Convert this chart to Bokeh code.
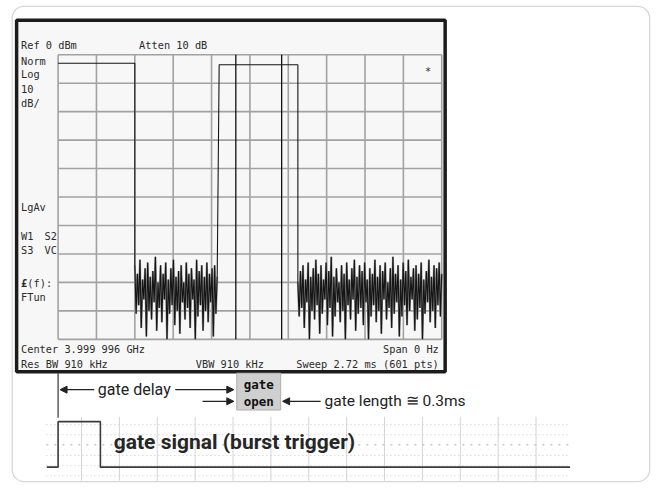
from bokeh.plotting import figure
from bokeh.models import Range1d, Arrow, NormalHead, BoxAnnotation
from bokeh.core.properties import value
from bokeh.embed import file_html
from bokeh.resources import INLINE

# ---------------- data ----------------
sweep_ms = 2.72          # sweep time (ms), 601 pts
ref_dbm = 0.0            # reference level
db_per_div = 10
n_div = 10

pulse1_ms = [0.0, 0.544]
pulse1_db = -3.0
pulse2_ms = [1.142, 1.70]
pulse2_db = -3.5

noise1_span = [0.544, 1.128]
noise1_db = [-74, -91, -77, -88, -72, -96, -79, -86, -75, -99,
             -73, -90, -78, -93, -76, -87, -71, -97, -80, -89,
             -74, -94, -77, -86, -73, -100, -79, -91, -75, -88,
             -72, -95, -78, -90, -76, -98, -74, -87, -80, -93,
             -73, -89, -77, -96, -75, -86, -79, -100, -72, -92,
             -76, -88, -74, -97, -78, -90, -73, -94, -77, -87,
             -75, -99, -74, -91, -78]
noise2_span = [1.70, 2.72]
noise2_db = [-80, -92, -76, -89, -74, -96, -79, -87, -73, -100,
             -78, -90, -75, -93, -72, -88, -77, -98, -74, -91,
             -79, -86, -73, -95, -76, -89, -71, -99, -78, -92,
             -75, -87, -80, -94, -74, -90, -77, -100, -73, -88,
             -79, -93, -75, -86, -72, -97, -78, -91, -74, -89,
             -76, -95, -73, -87, -79, -100, -75, -92, -77, -88,
             -72, -94, -78, -90, -74, -98, -76, -86, -73, -93,
             -80, -89, -75, -96, -71, -91, -77, -87, -74, -99,
             -79, -92, -73, -88, -76, -95, -72, -90, -78, -86,
             -75, -97, -74, -93, -77, -89, -73, -100, -79, -91,
             -76, -87, -72, -94, -78, -90, -74, -96, -75, -88,
             -73, -92, -77]

gate_ms = [1.26, 1.585]          # gate open / close markers

trig_ms = [-0.08, 0.0, 0.0, 0.30, 0.30, 3.63]   # burst trigger signal
trig_level = [0, 0, 1, 1, 0, 0]

left_labels = ["Norm", "Log", "10", "dB/", "LgAv", "W1", "S3", "FTun"]

# ---------------- layout constants (reference pixels) ----------------
GX0, GX1 = 59.0, 452.0      # screen grid left / right
GY0, GY1 = 56.0, 350.0      # screen grid top / bottom
PX0, PX1, PY0, PY1 = 0.0, 672.0, 0.0, 502.0
SIG_LO, SIG_HI = 482.0, 435.0

k_t = (GX1 - GX0) / sweep_ms
k_db = (GY1 - GY0) / (n_div * db_per_div)
k_sig = SIG_LO - SIG_HI

p = figure(width=656, height=486,
           x_range=Range1d(PX0, PX1), y_range=Range1d(PY1, PY0),
           output_backend="svg", toolbar_location=None, min_border=0,
           x_axis_location=None, y_axis_location=None,
           background_fill_color="white", border_fill_color="white",
           outline_line_color=None)
p.grid.visible = False

p.extra_x_ranges = {"t": Range1d(-(GX0 - PX0) / k_t, sweep_ms + (PX1 - GX1) / k_t)}
p.extra_y_ranges = {
    "db": Range1d(ref_dbm - (PY1 - GY0) / k_db, ref_dbm + (GY0 - PY0) / k_db),
    "sig": Range1d(-(PY1 - SIG_LO) / k_sig, (SIG_LO - PY0) / k_sig),
}

# outer rounded frame
p.add_layout(BoxAnnotation(left=12, right=665, top=6, bottom=497, border_radius=12,
                           fill_color=None, line_color="#7a7a7a", line_width=1.3,
                           level="underlay"))

# analyzer screen
p.quad(left=16.5, right=455.5, top=20.5, bottom=383.5, fill_color="#f7f7f7",
       line_color="#1c1c1c", line_width=3.5)

# screen graticule
t_grid = [i * sweep_ms / n_div for i in range(n_div + 1)]
db_grid = [ref_dbm - i * db_per_div for i in range(n_div + 1)]
db_bot = ref_dbm - n_div * db_per_div
p.segment(x0=t_grid, x1=t_grid, y0=[ref_dbm] * len(t_grid), y1=[db_bot] * len(t_grid),
          x_range_name="t", y_range_name="db", line_color="#a2a2a2", line_width=1.6)
p.segment(x0=[0] * len(db_grid), x1=[sweep_ms] * len(db_grid), y0=db_grid, y1=db_grid,
          x_range_name="t", y_range_name="db", line_color="#a2a2a2", line_width=1.6)

# gate markers
p.segment(x0=gate_ms, x1=gate_ms, y0=[ref_dbm] * 2, y1=[db_bot] * 2,
          x_range_name="t", y_range_name="db", line_color="#111111", line_width=1.3)

# trace
def sweep_times(span, n):
    return [span[0] + i * (span[1] - span[0]) / (n - 1) for i in range(n)]

n1x = sweep_times(noise1_span, len(noise1_db))
n2x = sweep_times(noise2_span, len(noise2_db))
# grey halo of the noise bands
p.line(n1x, noise1_db, x_range_name="t", y_range_name="db", line_color="#8c8c8c", line_width=2.0)
p.line(n2x, noise2_db, x_range_name="t", y_range_name="db", line_color="#8c8c8c", line_width=2.0)
tx = [pulse1_ms[0], pulse1_ms[1]] + n1x + [pulse2_ms[0], pulse2_ms[1]] + n2x
ty = [pulse1_db, pulse1_db] + noise1_db + [pulse2_db, pulse2_db] + noise2_db
p.line(tx, ty, x_range_name="t", y_range_name="db", line_color="#151515", line_width=1.1)

# screen annotations
mono = value("DejaVu Sans Mono")
tc = "#2b2b2b"
fs = "10.3px"
p.text(x=[21, 142], y=[46, 46], text=["Ref 0 dBm", "Atten 10 dB"], text_font=mono,
       text_font_size=fs, text_color=tc, text_baseline="middle")
p.text(x=[21] * len(left_labels), y=[62, 76, 91, 106, 213, 243, 258, 306], text=left_labels,
       text_font=mono, text_font_size=fs, text_color=tc, text_baseline="middle")
p.text(x=[45, 45], y=[243, 258], text=["S2", "VC"], text_font=mono,
       text_font_size=fs, text_color=tc, text_baseline="middle")
p.text(x=[21], y=[292], text=["£"], text_font=mono, text_font_size=fs, text_color=tc,
       text_baseline="middle", text_font_style="bold")
p.text(x=[27.5], y=[292], text=["(f):"], text_font=mono, text_font_size=fs, text_color=tc,
       text_baseline="middle")
p.text(x=[21, 21, 200], y=[360, 375, 375],
       text=["Center 3.999 996 GHz", "Res BW 910 kHz", "VBW 910 kHz"],
       text_font=mono, text_font_size=fs, text_color=tc, text_baseline="middle")
p.text(x=[449, 449], y=[360, 375], text=["Span 0 Hz", "Sweep 2.72 ms (601 pts)"],
       text_font=mono, text_font_size=fs, text_color=tc, text_baseline="middle",
       text_align="right")
p.text(x=[438], y=[73], text=["*"], text_font=mono, text_font_size=fs, text_color=tc,
       text_baseline="middle", text_align="center")

# gate box and arrows
p.quad(left=242, right=287, top=385, bottom=423, fill_color="#cfcfcf",
       line_color="#b0b0b0", line_width=1)
p.text(x=[264.5, 264.5], y=[397, 414], text=["gate", "open"], text_font=mono,
       text_font_size="12.5px", text_font_style="bold", text_color="#111111",
       text_baseline="middle", text_align="center")

p.segment(x0=[59], x1=[59], y0=[385], y1=[431], line_color="#333333", line_width=1.2)

def arrow(x0, x1, y):
    p.add_layout(Arrow(end=NormalHead(size=7, fill_color="#222222", line_color="#222222"),
                       x_start=x0, y_start=y, x_end=x1, y_end=y,
                       line_color="#222222", line_width=1.3))

arrow(96, 61, 402)
arrow(179, 239, 402)
arrow(207, 239, 414)
arrow(328, 289, 414)

sans = value("Roboto")
p.text(x=[137], y=[402], text=["gate delay"], text_font=sans, text_font_size="16px",
       text_color="#222222", text_baseline="middle", text_align="center")
p.text(x=[332], y=[414], text=["gate length \u2245 0.3ms"], text_font=sans,
       text_font_size="15.5px", text_color="#222222", text_baseline="middle")

# gate signal panel
gx = [83 + 38.8 * i for i in range(13)]
p.segment(x0=gx, x1=gx, y0=[430] * len(gx), y1=[496] * len(gx),
          line_color="#d4d4d4", line_width=1)
hy = [438, 448.5, 470, 480.5, 491]
p.segment(x0=[47] * len(hy), x1=[583] * len(hy), y0=hy, y1=hy,
          line_color="#c8c8c8", line_width=1, line_dash="1 3")
p.segment(x0=[47], x1=[583], y0=[459], y1=[459], line_color="#aaaaaa",
          line_width=1, line_dash="2 6")
p.line(trig_ms, trig_level, x_range_name="t", y_range_name="sig",
       line_color="#3a3a3a", line_width=1.6)
p.text(x=[116], y=[456], text=["gate signal (burst trigger)"], text_font=sans,
       text_font_size="21px", text_font_style="bold", text_color="#262626",
       text_baseline="middle")

open("out.html", "w").write(file_html(p, INLINE))
